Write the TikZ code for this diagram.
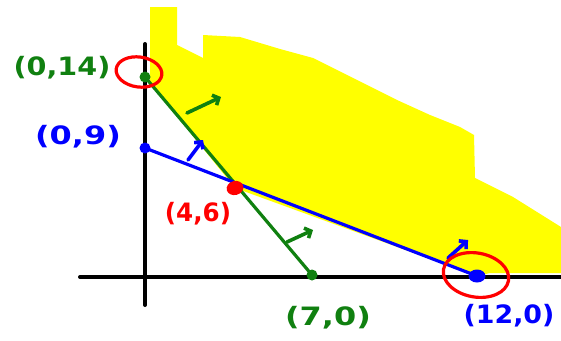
\documentclass[tikz,border=0pt]{standalone}
\usepackage{fontspec}
\setmainfont{DejaVu Sans}
\usetikzlibrary{arrows.meta,shapes.geometric}
\definecolor{hgreen}{RGB}{16,128,16}
\definecolor{hblue}{RGB}{0,0,255}
\definecolor{hred}{RGB}{255,0,0}
\definecolor{hyellow}{RGB}{255,255,0}
\newcommand{\hlab}[2]{\scalebox{#1}[1.15]{#2}}
\begin{document}
\begin{tikzpicture}[x=1pt,y=-1pt,
  axis/.style={line width=4pt, black, line cap=round},
  gline/.style={line width=3.2pt, hgreen},
  bline/.style={line width=3.2pt, hblue},
  dot/.style={circle, inner sep=0pt, minimum size=11pt},
  ring/.style={ellipse, draw=hred, line width=3.2pt, inner sep=0pt},
  hand/.style={line width=3.6pt, line cap=round, line join=round, -{Straight Barb[length=5pt,width=11pt]}},
  lab/.style={font=\fontsize{22}{22}\selectfont\bfseries, inner sep=0pt}
]
\useasboundingbox (0,0) rectangle (561,340);
% points
\coordinate (c014) at (145,77);
\coordinate (c09) at (145,148);
\coordinate (c46) at (235,188);
\coordinate (c70) at (312,275);
\coordinate (c120) at (477,276);
% feasible region
\fill[hyellow] (150,7) -- (177,7) -- (177,45) -- (203,58) -- (203,35) -- (240,37) -- (280,49)
  -- (313,58) -- (347,75) -- (397,100) -- (430,115) -- (460,127) -- (474,135)
  -- (475,178) -- (513,197) -- (561,227) -- (561,273) -- (490,273)
  -- (c120) -- (c46) -- (150,83) -- cycle;
% axes
\coordinate (ytop) at (145,44);
\coordinate (ybot) at (145,305);
\coordinate (xl) at (80,277);
\coordinate (xr) at (561,277);
\draw[axis] (ytop) -- (ybot);
\draw[axis] (xl) -- (xr);
% constraint lines
\draw[gline] (c014) -- (c70);
\draw[bline] (c09) -- (c120);
% dots
\node[dot, fill=hgreen] (p014) at (c014) {};
\node[dot, fill=hblue] (p09) at (c09) {};
\node[dot, fill=hgreen] (p70) at (c70) {};
\node[ellipse, fill=hblue, minimum width=17pt, minimum height=13pt, inner sep=0pt] (p120) at (c120) {};
\node[ellipse, fill=hred, minimum width=17pt, minimum height=14pt, inner sep=0pt, rotate=15] (p46) at (c46) {};
% direction arrows
\coordinate (ga1) at (187,113); \coordinate (ga2) at (221,97);
\coordinate (ba1) at (188,160); \coordinate (ba2) at (203,140);
\coordinate (gb1) at (287,242); \coordinate (gb2) at (313,230);
\coordinate (bb1) at (448,258); \coordinate (bb2) at (468,240);
\draw[hand, hgreen] (ga1) -- (ga2);
\draw[hand, hblue] (ba1) -- (ba2);
\draw[hand, hgreen] (gb1) -- (gb2);
\draw[hand, hblue] (bb1) -- (bb2);
% optimum rings
\node[ring, minimum width=46pt, minimum height=30pt, rotate=-8] (r1) at (139,72) {};
\node[ring, minimum width=66pt, minimum height=44pt, rotate=-10] (r2) at (476,275) {};
% labels
\node[lab, text=hgreen] (l014) at (62,68) {\hlab{1.3}{(0,14)}};
\node[lab, text=hblue] (l09) at (78,137) {\hlab{1.45}{(0,9)}};
\node[lab, text=hred] (l46) at (198,214) {\hlab{1.12}{(4,6)}};
\node[lab, text=hgreen] (l70) at (328,318) {\hlab{1.45}{(7,0)}};
\node[lab, text=hblue] (l120) at (509,316) {\hlab{1.22}{(12,0)}};
\end{tikzpicture}
\end{document}
